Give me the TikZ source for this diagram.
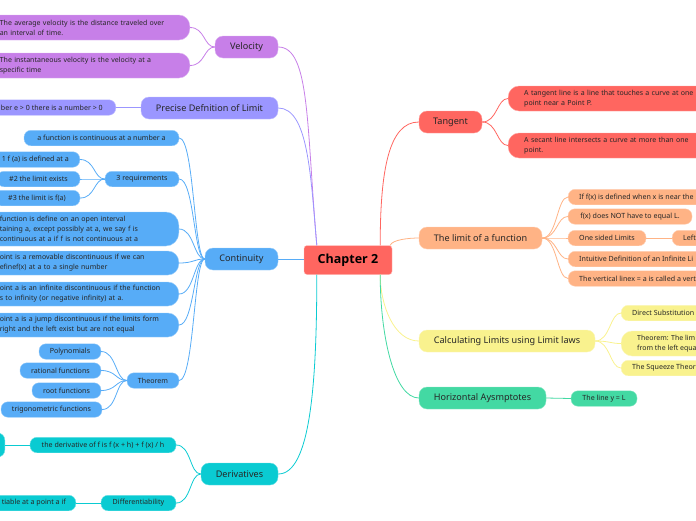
\documentclass[tikz,border=0pt]{standalone}
\usepackage{fontspec}
\setmainfont{Noto Sans}
\newfontfamily\chapfont{Open Sans}[BoldFont=* Bold]
\definecolor{velcol}{HTML}{C77FE8}
\definecolor{defcol}{HTML}{9B96FF}
\definecolor{concol}{HTML}{57ACF7}
\definecolor{dercol}{HTML}{0ACBD2}
\definecolor{tancol}{HTML}{FF6660}
\definecolor{limcol}{HTML}{FFB385}
\definecolor{calcol}{HTML}{F9F28E}
\definecolor{horcol}{HTML}{43D9A3}
\tikzset{
  central/.style={
    rectangle,
    rounded corners=3pt,
    minimum width=88pt,
    minimum height=29pt,
    inner sep=0pt,
    align=center,
    draw=tancol!40,
    fill=tancol,
    font=\chapfont\fontsize{12.5}{14}\selectfont\bfseries
  },
  topic/.style={
    rectangle,
    rounded corners=8pt,
    minimum height=22pt,
    inner sep=0pt,
    align=center,
    text=black!85,
    font=\fontsize{9.1}{11}\selectfont
  },
  leaf/.style={
    rectangle,
    rounded corners=7pt,
    minimum height=15.5pt,
    inner sep=0pt,
    align=center,
    text=black!85,
    font=\fontsize{7.1}{9}\selectfont
  },
  wide/.style={
    rectangle,
    rounded corners=11pt,
    inner ysep=0pt,
    inner xsep=16pt,
    align=left,
    text=black!85,
    font=\fontsize{7}{10}\selectfont
  },
  vel/.style={fill=velcol, draw=velcol!60!white},
  def/.style={fill=defcol, draw=defcol!60!white},
  con/.style={fill=concol, draw=concol!60!white},
  der/.style={fill=dercol, draw=dercol!60!white},
  tan/.style={fill=tancol, draw=tancol!60!white},
  lim/.style={fill=limcol, draw=limcol!60!white},
  cal/.style={fill=calcol, draw=calcol!60!white},
  hor/.style={fill=horcol, draw=horcol!60!white},
  link/.style={line width=0.8pt},
  branch/.style={out=0, in=180, out distance=15pt, in distance=11pt}
}

\begin{document}
\begin{tikzpicture}[x=1pt, y=-1pt]
  \useasboundingbox (0,0) rectangle (696,520);

  \node (chap) [central] at (348,260) {Chapter 2};

  % left side
  \node (velocity) [topic, vel, minimum width=63pt] at (246.5,47) {Velocity};
  \node (vela) [wide, vel, anchor=east, minimum height=25pt, text width=174pt] at (190,27.5) {The average velocity is the distance traveled over\\an interval of time.};
  \node (velb) [wide, vel, anchor=east, minimum height=25pt, text width=174pt] at (190,65.5) {The instantaneous velocity is the velocity at a\\specific time};

  \node (precise) [topic, def, minimum width=137pt] at (209.5,108) {Precise Defnition of Limit};
  \node (precisea) [leaf, def, anchor=east, inner xsep=13pt] at (116,107.5) {ber e > 0 there is a number > 0};

  \node (continuity) [topic, con, minimum width=73pt] at (241.5,259) {Continuity};
  \node (cona) [leaf, con, minimum width=155pt] at (101.5,138) {a function is continuous at a number a};
  \node (reqs) [leaf, con, minimum width=74pt] at (142,179) {3 requirements};
  \node (reqa) [leaf, con, anchor=east, inner xsep=11pt] at (80,159.5) {1 f (a) is defined at a};
  \node (reqb) [leaf, con, minimum width=83pt] at (38.5,179) {\#2 the limit exists};
  \node (reqc) [leaf, con, minimum width=86pt] at (37,198) {\#3 the limit is f(a)};
  \node (conb) [wide, con, anchor=east, minimum height=34pt, text width=163pt, rounded corners=13pt] at (179,229) {function is define on an open interval\\taining a, except possibly at a, we say f is\\continuous at a if f is not continuous at a};
  \node (conc) [wide, con, anchor=east, minimum height=24pt, text width=163pt] at (179,263) {oint is a removable discontinuous if we can\\efinef(x) at a to a single number};
  \node (cond) [wide, con, anchor=east, minimum height=24pt, text width=163pt] at (179,294) {oint a is an infinite discontinuous if the function\\s to infinity (or negative infinity) at a.};
  \node (cone) [wide, con, anchor=east, minimum height=24pt, text width=163pt] at (179,325) {oint a is a jump discontinuous if the limits form\\right and the left exist but are not equal};
  \node (theorem) [leaf, con, minimum width=52pt] at (153,380.5) {Theorem};
  \node (poly) [leaf, con, minimum width=62pt] at (70,351.5) {Polynomials};
  \node (rational) [leaf, con, minimum width=81pt] at (60.5,370.5) {rational functions};
  \node (root) [leaf, con, minimum width=69pt] at (66.5,390.5) {root functions};
  \node (trig) [leaf, con, minimum width=101pt] at (51.5,409.5) {trigonometric functions};

  \node (derivatives) [topic, der, minimum width=77pt] at (239.5,474) {Derivatives};
  \node (dera) [leaf, der, minimum width=146pt] at (103,445) {the derivative of f is f (x + h) + f (x) / h};
  \node (derstub) [leaf, der, anchor=east, minimum width=40pt, minimum height=24pt] at (5,445) {};
  \node (diff) [leaf, der, minimum width=75pt] at (138.5,503) {Differentiability};
  \node (diffa) [leaf, der, anchor=east, inner xsep=10pt] at (76,503) {tiable at a point a if};

  % right side
  \node (tangent) [topic, tan, minimum width=63pt] at (450.5,122) {Tangent};
  \node (tana) [wide, tan, anchor=west, minimum height=25pt, text width=180pt] at (508,98.5) {A tangent line is a line that touches a curve at one\\point near a Point P.};
  \node (tanb) [wide, tan, anchor=west, minimum height=25pt, text width=180pt] at (508,145.5) {A secant line intersects a curve at more than one\\point.};

  \node (limit) [topic, lim, minimum width=123pt] at (480.5,238) {The limit of a function};
  \node (lima) [leaf, lim, anchor=west, inner xsep=11pt] at (568,197) {If f(x) is defined when x is near the};
  \node (limb) [leaf, lim, minimum width=124pt] at (630,216.5) {f(x) does NOT have to equal L.};
  \node (limc) [leaf, lim, minimum width=78pt] at (607,238) {One sided Limits};
  \node (limcc) [leaf, lim, anchor=west, inner xsep=11pt] at (672,238) {Left};
  \node (limd) [leaf, lim, anchor=west, inner xsep=11pt] at (568,259) {Intuitive Definition of an Infinite Li};
  \node (lime) [leaf, lim, anchor=west, inner xsep=11pt] at (568,278.5) {The vertical linex = a is called a vert};

  \node (calc) [topic, cal, minimum width=176pt] at (507,341) {Calculating Limits using Limit laws};
  \node (cala) [leaf, cal, anchor=west, inner xsep=11pt] at (621,313) {Direct Substitution};
  \node (calb) [wide, cal, anchor=west, minimum height=25pt] at (621,343.5) {Theorem: The lim\\from the left equa};
  \node (calc3) [leaf, cal, anchor=west, inner xsep=11pt] at (621,368) {The Squeeze Theor};

  \node (horizontal) [topic, hor, minimum width=127pt] at (482.5,398) {Horizontal Aysmptotes};
  \node (hora) [leaf, hor, minimum width=66pt] at (604,398.5) {The line y = L};

  % main links
  \draw[link, velcol] (velocity.east) to[out=0, in=95, out distance=32pt, in distance=120pt] ([xshift=13pt]chap.north west);
  \draw[link, defcol] (precise.east) to[out=0, in=95, out distance=30pt, in distance=70pt] ([xshift=13pt]chap.north west);
  \draw[link, concol] (continuity.east) -- (chap.west |- continuity.east);
  \draw[link, dercol] (derivatives.east) to[out=0, in=-90, out distance=32pt, in distance=110pt] ([xshift=13pt]chap.south west);
  \draw[link, tancol] ([xshift=-12pt]chap.north east) to[out=90, in=180, out distance=75pt, in distance=30pt] (tangent.west);
  \draw[link, limcol] ([xshift=-2pt]chap.north east) to[out=70, in=180, out distance=6pt, in distance=10pt] (limit.west);
  \draw[link, calcol] ([xshift=-12pt]chap.south east) to[out=-90, in=180, out distance=30pt, in distance=25pt] (calc.west);
  \draw[link, horcol] ([xshift=-12pt]chap.south east) to[out=-90, in=180, out distance=60pt, in distance=25pt] (horizontal.west);

  % branches
  \foreach \kid in {vela, velb} \draw[link, velcol] (\kid.east) to[branch] (velocity.west);
  \draw[link, defcol] (precisea.east) -- (precise.west |- precisea.east);
  \foreach \kid in {cona, reqs, conb, conc, cond, cone, theorem} \draw[link, concol] (\kid.east) to[branch] (continuity.west);
  \foreach \kid in {reqa, reqb, reqc} \draw[link, concol] (\kid.east) to[branch] (reqs.west);
  \foreach \kid in {poly, rational, root, trig} \draw[link, concol] (\kid.east) to[branch] (theorem.west);
  \foreach \kid in {dera, diff} \draw[link, dercol] (\kid.east) to[branch] (derivatives.west);
  \draw[link, dercol] (derstub.east) -- (dera.west);
  \draw[link, dercol] (diffa.east) -- (diff.west);
  \foreach \kid in {tana, tanb} \draw[link, tancol] (tangent.east) to[branch] (\kid.west);
  \foreach \kid in {lima, limb, limc, limd, lime} \draw[link, limcol] (limit.east) to[branch] (\kid.west);
  \draw[link, limcol] (limc.east) -- (limcc.west);
  \foreach \kid in {cala, calb, calc3} \draw[link, calcol] (calc.east) to[branch] (\kid.west);
  \draw[link, horcol] (horizontal.east) -- (hora.west);
\end{tikzpicture}
\end{document}
